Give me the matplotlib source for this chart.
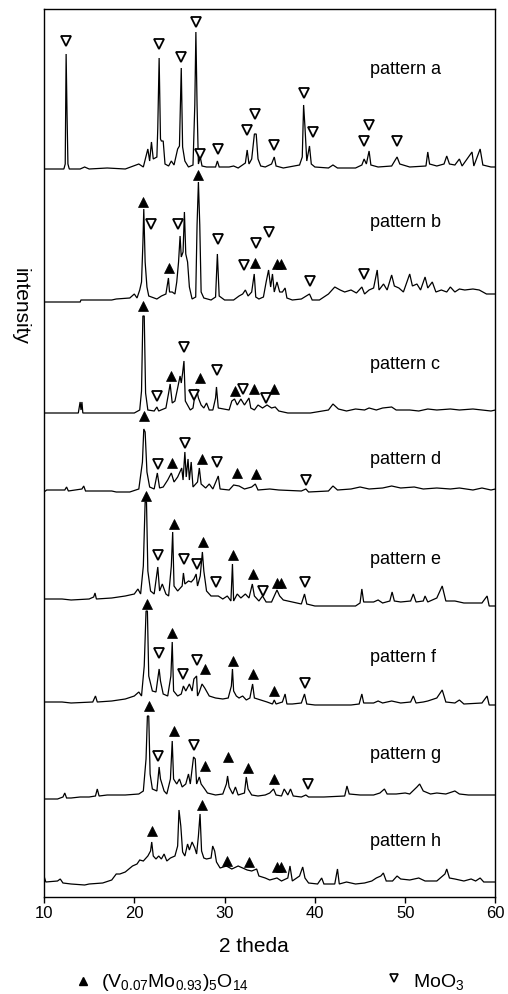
import matplotlib
matplotlib.use('Agg')
import matplotlib.pyplot as plt

plt.rcParams['font.family'] = ['Liberation Sans', 'DejaVu Sans']
plt.rcParams['mathtext.fontset'] = 'custom'
plt.rcParams['mathtext.rm'] = 'Liberation Sans'
plt.rcParams['mathtext.it'] = 'Liberation Sans:italic'

# ---------------- data (2theta, intensity above own baseline) ----------------
pattern_names = ['pattern a', 'pattern b', 'pattern c', 'pattern d',
                 'pattern e', 'pattern f', 'pattern g', 'pattern h']
offsets = [728, 595, 484, 405, 291, 191, 98, 11]
label_y = [100, 80, 49, 33, 47, 49, 45, 45]

a_trace = [(10.0,0),(12.2,0),(12.35,5),(12.45,115),(12.55,55),(12.65,5),(12.8,0),(14,0),(14.5,2),(15,0),
           (17,1),(19,0),(20.5,5),(21,2),(21.5,20),(21.7,8),(21.9,27),(22.1,10),(22.5,12),(22.6,41),
           (22.75,111),(22.9,30),(23.0,28),(23.2,28),(23.4,5),(23.8,3),(24.1,8),(24.4,4),(24.8,20),(25.0,23),
           (25.2,101),(25.35,22),(25.6,8),(26.0,2),(26.5,4),(26.7,64),(26.82,137),(26.95,64),(27.1,5),(27.3,12),
           (27.5,3),(28,2),(29.0,2),(29.2,8),(29.4,2),(30.5,2),(31.0,3),(31.5,1),(32.3,6),(32.5,19),
           (32.7,5),(33.0,10),(33.3,35),(33.5,35),(33.7,10),(34.0,3),(34.5,2),(35.2,5),(35.5,12),(35.7,3),
           (36.5,1),(38.3,4),(38.6,12),(38.75,64),(38.9,42),(39.1,8),(39.4,23),(39.6,5),(40,2),(41.5,1),
           (42,4),(42.5,1),(44.5,1),(45.2,4),(45.45,10),(45.7,5),(46.0,18),(46.2,4),(47,2),(48.5,3),
           (49.1,12),(49.4,5),(50.5,2),(52.3,3),(52.5,17),(52.7,5),(53.5,3),(54.3,5),(54.6,13),(54.9,5),
           (55.5,4),(56.0,10),(56.3,3),(57.4,17),(57.6,3),(58.3,20),(58.6,4),(59.5,2),(60,2)]

b_trace = [(10,0),(14,0),(14.1,2),(17.5,2),(18.0,3),(19.5,4),(20.0,8),(20.3,4),(20.6,12),(20.8,20),
           (20.95,58),(21.05,93),(21.2,40),(21.4,15),(21.6,6),(22.5,3),(23.0,6),(23.5,8),(23.78,24),(23.9,10),
           (24.2,10),(24.5,8),(24.7,20),(24.9,40),(25.07,66),(25.2,45),(25.4,50),(25.55,90),(25.7,48),(25.9,40),
           (26.1,15),(26.4,3),(26.8,5),(26.95,77),(27.1,120),(27.25,77),(27.4,10),(27.7,4),(28.5,2),(29.0,5),
           (29.2,48),(29.4,6),(30,2),(31,2),(31.6,6),(32.0,8),(32.3,12),(32.6,6),(33.0,10),(33.28,28),
           (33.45,5),(33.8,3),(34.3,5),(34.6,20),(34.87,32),(35.1,15),(35.3,28),(35.5,10),(35.8,20),(36.1,10),
           (36.4,10),(36.7,14),(36.9,4),(37.5,2),(38.5,3),(39.4,8),(39.7,2),(40.5,2),(41.5,8),(42.2,15),
           (42.8,12),(43.3,10),(44,12),(44.6,9),(45.2,15),(45.5,8),(46.0,12),(46.5,14),(46.9,32),(47.1,12),
           (47.6,18),(48.0,12),(48.5,27),(48.8,16),(49.3,14),(49.8,10),(50.5,28),(50.8,16),(51.3,18),(51.7,12),
           (52.2,25),(52.5,14),(53.0,20),(53.4,10),(54.0,12),(54.6,10),(55.0,15),(55.5,10),(56.0,13),(56.6,12),
           (57.5,13),(58.2,12),(59,8),(60,8)]

c_trace = [(10,0),(13.8,0),(14.0,11),(14.1,3),(14.2,11),(14.3,0),(16,0),(20.0,0),(20.6,3),(20.8,22),
           (20.95,97),(21.1,97),(21.25,20),(21.5,3),(22.2,2),(22.5,6),(22.7,2),(23.5,5),(23.8,20),(23.97,29),
           (24.2,10),(24.5,12),(24.8,25),(25.07,37),(25.2,30),(25.35,40),(25.5,52),(25.65,12),(26.2,3),(26.5,5),
           (26.7,17),(26.9,24),(27.1,15),(27.4,8),(27.7,5),(28.0,10),(28.3,3),(28.7,3),(29.0,15),(29.1,26),
           (29.3,5),(30.5,3),(30.8,12),(31.1,14),(31.4,8),(31.8,14),(32.2,8),(32.7,15),(32.9,5),(33.3,3),
           (33.7,8),(34.2,5),(34.7,8),(35.2,5),(35.6,6),(36.0,2),(37,0),(38.5,0),(39.5,0),(41.5,3),
           (42.0,9),(42.6,4),(43.5,2),(44.5,4),(45.5,3),(46,5),(46.8,3),(47.5,5),(48.5,6),(49,3),
           (50.5,3),(51.5,2),(52.5,4),(53.5,3),(55,4),(56,3),(57.5,4),(58.5,3),(59.5,2),(60,3)]

d_trace = [(10,0),(10.3,2),(12.3,2),(12.5,5),(12.7,1),(14.2,3),(14.4,6),(14.6,1),(17.5,1),(18.0,0),
           (19.5,0),(20.5,3),(20.9,30),(21.05,63),(21.2,60),(21.4,20),(21.7,5),(22.2,3),(22.55,19),(22.8,4),
           (23.2,5),(23.7,12),(24.1,19),(24.4,10),(24.8,15),(25.25,24),(25.4,12),(25.6,40),(25.75,15),(25.95,33),
           (26.1,12),(26.3,30),(26.5,5),(27.0,10),(27.2,24),(27.4,8),(27.9,4),(28.3,8),(28.7,3),(29.3,16),
           (29.5,3),(30.5,2),(31.0,7),(31.6,6),(32.2,3),(33.0,5),(33.4,8),(33.7,2),(35,3),(36,2),
           (38.5,1),(39.0,3),(39.3,0),(41.5,1),(42.0,6),(42.5,2),(44,3),(45,5),(46,3),(47.5,4),
           (48.5,6),(49.5,4),(51,5),(52,3),(53.5,4),(55,3),(56,4),(57.5,2),(58.5,4),(59.5,2),(60,3)]

e_trace = [(10,7),(12,7),(13,6),(15.0,7),(15.5,9),(15.65,13),(15.8,7),(17.5,8),(19.0,10),(20.0,12),
           (20.4,17),(20.7,12),(21.0,40),(21.2,104),(21.35,104),(21.5,35),(21.8,15),(22.2,12),(22.6,39),(22.8,15),
           (23.1,22),(23.5,12),(23.8,10),(24.1,40),(24.25,74),(24.4,20),(24.8,15),(25.3,20),(25.44,33),(25.6,22),
           (26.0,25),(26.3,24),(26.6,27),(26.85,32),(27.0,20),(27.3,30),(27.54,54),(27.7,35),(28.0,15),(28.5,10),
           (29.3,10),(29.8,7),(30.3,10),(30.7,5),(30.87,42),(31.0,5),(31.4,12),(31.8,8),(32.3,12),(32.7,8),
           (33.07,22),(33.3,10),(33.8,5),(34.2,10),(34.6,4),(35.2,4),(35.8,16),(36.1,10),(36.5,6),(37.5,4),
           (38.5,2),(38.85,12),(39.1,2),(40,0),(42,0),(44.5,0),(45.0,3),(45.2,17),(45.4,4),(46.5,4),
           (47.0,6),(47.5,3),(48.3,5),(48.55,14),(48.8,5),(49.5,4),(50.6,5),(50.9,12),(51.2,4),(52.0,5),
           (52.2,10),(52.5,4),(53.5,8),(54.1,20),(54.5,5),(55.5,5),(56.5,3),(58.5,3),(59.07,10),(59.3,0),(60,0)]

f_trace = [(10,4),(12,4),(13,3),(15.4,4),(15.7,10),(15.9,4),(17.5,5),(19.0,7),(20.0,10),(20.5,14),
           (20.8,10),(21.1,40),(21.3,95),(21.45,95),(21.6,30),(22.0,15),(22.4,14),(22.75,37),(22.9,25),(23.2,12),
           (23.7,10),(24.05,30),(24.2,64),(24.35,15),(24.8,10),(25.2,12),(25.44,20),(25.7,15),(26.1,22),(26.4,15),
           (26.6,27),(26.9,30),(27.0,10),(27.2,14),(27.5,22),(27.8,18),(28.3,10),(29.0,8),(29.8,7),(30.4,8),
           (30.75,20),(30.87,37),(31.0,15),(31.3,10),(31.6,8),(32.0,10),(32.4,6),(32.8,8),(33.1,22),(33.3,8),
           (34.0,6),(34.7,4),(35.3,2),(35.5,6),(35.7,2),(36.4,4),(36.7,12),(36.9,2),(37.5,2),(38.5,3),
           (38.85,12),(39.1,2),(40,1),(42,1),(44,1),(44.9,2),(45.2,12),(45.4,3),(46.5,3),(47.0,5),
           (47.5,3),(48.5,5),(49.5,3),(50.6,4),(50.9,10),(51.2,3),(52.0,4),(52.5,5),(53.5,8),(54.1,16),
           (54.5,4),(55.5,3),(56.0,6),(56.5,2),(58.5,3),(59.07,10),(59.3,1),(60,1)]

g_trace = [(10,0),(11.5,0),(12.1,2),(12.3,6),(12.5,1),(13.0,1),(14.0,2),(15.0,2),(15.7,3),(15.9,10),
           (16.1,3),(17.0,4),(19.0,4),(20.5,5),(21.0,8),(21.3,40),(21.45,83),(21.6,83),(21.75,25),(22.0,10),
           (22.5,8),(22.75,32),(22.9,20),(23.3,8),(23.6,5),(24.0,20),(24.2,58),(24.35,20),(24.7,15),(25.0,20),
           (25.3,12),(25.7,15),(26.0,25),(26.2,15),(26.56,42),(26.75,40),(26.9,15),(27.2,22),(27.4,15),(27.8,10),
           (28.1,6),(29.0,4),(29.8,5),(30.2,15),(30.33,23),(30.5,12),(30.9,5),(31.2,12),(31.5,4),(32.2,6),
           (32.4,22),(32.6,10),(33.0,4),(33.7,3),(34.5,4),(35.0,6),(35.42,10),(35.7,4),(36.3,3),(36.6,10),
           (37.0,4),(37.3,10),(37.6,3),(38.5,2),(39.0,4),(39.3,2),(41.0,2),(43.3,3),(43.55,13),(43.8,5),
           (45.0,4),(46.5,4),(47.2,6),(47.7,10),(48.0,5),(49.0,5),(50.0,6),(50.5,5),(51.3,12),(51.6,15),
           (52.0,8),(52.8,5),(53.5,6),(54.5,5),(55.5,8),(56.0,5),(57,4),(60,4)]

h_trace = [(10,10),(10.2,4),(11.5,5),(11.8,7),(12.1,3),(13,2),(14.5,1),(15,2),(16.5,3),(17.5,6),
           (18.0,12),(18.4,12),(19.0,14),(19.8,20),(20.3,22),(20.6,26),(21.0,25),(21.5,30),(21.8,35),(21.93,44),
           (22.1,30),(22.4,27),(22.7,30),(23.0,27),(23.3,32),(23.6,25),(24.0,28),(24.5,30),(24.8,40),(24.95,76),
           (25.15,60),(25.35,34),(25.6,30),(25.9,42),(26.1,36),(26.4,44),(26.7,38),(26.9,32),(27.1,50),(27.28,72),
           (27.45,35),(27.7,28),(28.0,27),(28.5,28),(28.68,40),(28.9,35),(29.1,24),(29.5,18),(30.2,20),(30.8,17),
           (31.5,20),(32.0,18),(32.5,16),(33.0,15),(33.55,17),(33.8,10),(34.5,8),(35.0,6),(35.8,8),(36.3,5),
           (37.0,8),(37.24,20),(37.5,5),(38.3,10),(38.65,19),(38.9,8),(39.3,3),(40.3,2),(40.75,8),(41.0,2),
           (42.2,2),(42.5,17),(42.7,2),(43.5,4),(44.5,2),(45.5,3),(46.3,5),(46.8,8),(47.3,10),(47.58,13),
           (47.9,5),(48.6,5),(49.1,10),(49.5,7),(50.5,6),(51.5,8),(52.2,5),(53.5,5),(54.4,12),(54.6,17),
           (54.9,8),(55.5,7),(56.5,5),(57.3,7),(57.8,5),(58.3,8),(58.7,4),(60,4)]

# phase markers: (2theta, height above own baseline)
a_V = []
a_Mo = [(12.40,128),(22.74,125),(25.18,112),(26.85,147),(27.29,15),(29.25,20),(32.47,39),(33.42,55),
        (35.49,24),(38.74,76),(39.74,37),(45.43,28),(45.99,44),(49.05,28)]
b_V = [(21.0,100),(23.89,34),(27.02,127),(33.42,39),(35.85,38),(36.3,38)]
b_Mo = [(21.85,78),(24.88,78),(29.23,63),(32.1,37),(33.46,59),(34.87,70),(39.49,21),(45.4,28)]
c_V = [(21.0,107),(24.05,37),(27.3,35),(31.18,22),(33.28,24),(35.42,24)]
c_Mo = [(22.48,17),(25.55,66),(26.66,18),(29.13,43),(31.99,24),(34.57,15)]
d_V = [(21.1,76),(24.14,29),(27.46,33),(31.33,19),(33.5,18)]
d_Mo = [(22.66,28),(25.62,49),(29.2,30),(39.0,12)]
e_V = [(21.29,110),(24.42,82),(27.58,64),(30.98,51),(33.2,32),(35.85,23),(36.3,23)]
e_Mo = [(22.63,51),(25.5,47),(26.99,42),(29.06,24),(34.22,15),(38.85,24)]
f_V = [(21.38,102),(24.2,73),(27.84,37),(30.98,45),(33.2,32),(35.42,15)]
f_Mo = [(22.77,53),(25.44,32),(26.99,46),(38.85,23)]
g_V = [(21.63,93),(24.4,68),(27.84,33),(30.34,42),(32.55,31),(35.49,20)]
g_Mo = [(22.63,43),(26.65,54),(39.27,15)]
h_V = [(21.93,55),(27.54,81),(30.23,25),(32.74,24),(35.85,19),(36.3,19)]
h_Mo = []

traces = [a_trace, b_trace, c_trace, d_trace, e_trace, f_trace, g_trace, h_trace]
v_marks = [a_V, b_V, c_V, d_V, e_V, f_V, g_V, h_V]
mo_marks = [a_Mo, b_Mo, c_Mo, d_Mo, e_Mo, f_Mo, g_Mo, h_Mo]

legend_V = r'$\mathrm{(V_{0.07}Mo_{0.93})_5O_{14}}$'
legend_Mo = r'$\mathrm{MoO_3}$'
x_ticks = [10, 20, 30, 40, 50, 60]

# ---------------- figure ----------------
W, H = 508, 995
fig = plt.figure(figsize=(W / 100, H / 100), dpi=100)
ax = fig.add_axes([44 / W, 1 - 898 / H, (495.5 - 44) / W, (898 - 10) / H])

for tr, off, vm, mm, name, ly in zip(traces, offsets, v_marks, mo_marks, pattern_names, label_y):
    xs = [p[0] for p in tr]
    ys = [p[1] + off for p in tr]
    ax.plot(xs, ys, color='black', lw=0.9, solid_joinstyle='miter')
    if vm:
        ax.plot([p[0] for p in vm], [p[1] + off for p in vm], linestyle='none',
                marker='^', ms=7, mfc='black', mec='black', mew=0.5)
    if mm:
        ax.plot([p[0] for p in mm], [p[1] + off for p in mm], linestyle='none',
                marker='v', ms=6.5, mfc='white', mec='black', mew=1.3)
    ax.text(46.1, off + ly, name, fontsize=13, va='center', ha='left')

ax.set_xlim(10, 60)
ax.set_ylim(0, 888)
ax.set_xticks(x_ticks)
ax.set_xticklabels([str(t) for t in x_ticks], fontsize=12)
ax.set_yticks([])
ax.tick_params(axis='x', direction='out', length=4, width=1, pad=2)
for s in ax.spines.values():
    s.set_linewidth(1.0)

fig.text(254 / W, 1 - 947 / H, '2 theda', fontsize=15, ha='center', va='center')
fig.text(20 / W, 1 - 306 / H, 'intensity', fontsize=15, ha='center', va='center', rotation=-90)

# legend row (kept fully inside the canvas)
fig.lines.append(plt.Line2D([83 / W], [1 - 982 / H], transform=fig.transFigure, linestyle='none',
                            marker='^', ms=6, mfc='black', mec='black'))
fig.text(101 / W, 1 - 987 / H, legend_V, fontsize=14, ha='left', va='baseline')
fig.lines.append(plt.Line2D([394 / W], [1 - 979 / H], transform=fig.transFigure, linestyle='none',
                            marker='v', ms=5.5, mfc='white', mec='black', mew=1.2))
fig.text(413 / W, 1 - 987 / H, legend_Mo, fontsize=14, ha='left', va='baseline')

fig.savefig('out.png', dpi=100)
